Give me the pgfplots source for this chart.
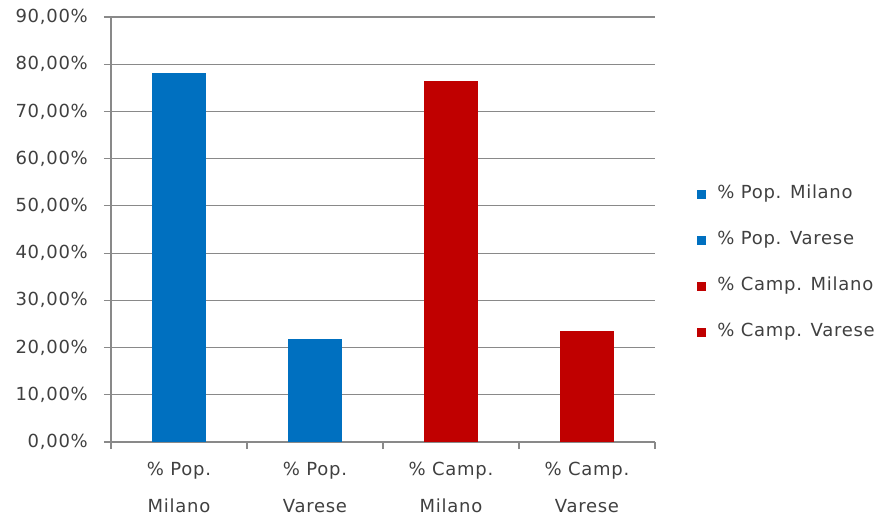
\documentclass[border=0pt]{standalone}
\usepackage{fontspec}
\setmainfont{DejaVu Sans}[LetterSpace=4]
\usepackage{pgfplots}
\pgfplotsset{compat=1.18}
\definecolor{barblue}{HTML}{0070C0}
\definecolor{barred}{HTML}{C00000}
\definecolor{gridgray}{HTML}{898989}
\definecolor{txt}{HTML}{404040}
\pgfplotsset{mybar/.style={ybar, bar width=0.4, bar shift=0pt, draw=none, fill=#1,
  legend image code/.code={\fill[#1] (0pt,-4.5pt) rectangle (9pt,4.5pt);}}}
\begin{document}
\begin{tikzpicture}[x=1pt,y=1pt]
\useasboundingbox (-111,-75) rectangle (773,442);
\begin{axis}[
  at={(0,0)}, anchor=south west,
  scale only axis, width=544pt, height=425pt,
  xmin=-0.5, xmax=3.5, ymin=0, ymax=90,
  axis x line=bottom, axis y line=left,
  axis line style={-, gridgray, line width=1.2pt},
  ytick={0,10,...,90},
  yticklabels={{0,00\%},{10,00\%},{20,00\%},{30,00\%},{40,00\%},{50,00\%},{60,00\%},{70,00\%},{80,00\%},{90,00\%}},
  ymajorgrids, grid style={gridgray, line width=1.2pt},
  xtick={-0.5,0.5,1.5,2.5,3.5},
  xticklabels={},
  extra x ticks={0,1,2,3},
  extra x tick labels={{\% Pop.\\Milano},{\% Pop.\\Varese},{\% Camp.\\Milano},{\% Camp.\\Varese}},
  extra x tick style={major tick length=0pt, xticklabel style={align=center, inner sep=0pt, yshift=-20pt}},
  tick align=outside,
  major tick length=7pt,
  tick style={gridgray, line width=1.2pt},
  ticklabel style={font=\fontsize{18}{37}\selectfont, text=txt},
  yticklabel style={inner sep=0pt, xshift=-16pt},
  legend style={at={(1.072,0.421)}, anchor=west, draw=none, fill=none,
    font=\fontsize{18}{20}\selectfont, text=txt,
    nodes={inner sep=0pt, text height=12pt, text depth=4pt},
    row sep=30pt, column sep=11pt},
  legend cell align=left,
]
\addplot[mybar=barblue] coordinates {(0,78.1)};
\addplot[mybar=barblue] coordinates {(1,21.9)};
\addplot[mybar=barred] coordinates {(2,76.4)};
\addplot[mybar=barred] coordinates {(3,23.6)};
\legend{\% Pop. Milano,\% Pop. Varese,\% Camp. Milano,\% Camp. Varese}
\end{axis}
\end{tikzpicture}
\end{document}
